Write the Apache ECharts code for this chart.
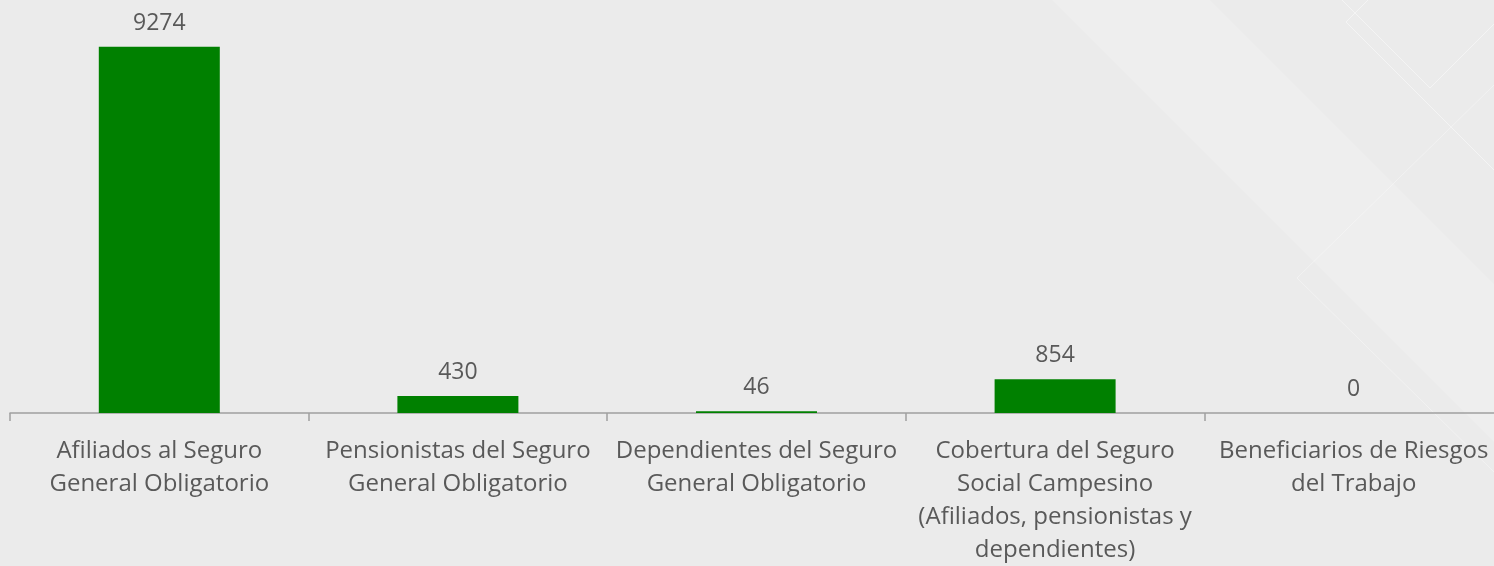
<!DOCTYPE html>
<html>
<head>
<meta charset="UTF-8">
<title>Cobertura</title>
<style>
  html, body { margin: 0; padding: 0; background: #ebebeb; }
  #main { width: 1494px; height: 566px; }
</style>
</head>
<body>
<div id="main"></div>
<script src="https://cdn.jsdelivr.net/npm/echarts@6/dist/echarts.min.js"></script>
<script>
  // categorias y valores
  var categories = [
    'Afiliados al Seguro\nGeneral Obligatorio',
    'Pensionistas del Seguro\nGeneral Obligatorio',
    'Dependientes del Seguro\nGeneral Obligatorio',
    'Cobertura del Seguro\nSocial Campesino\n(Afiliados, pensionistas y\ndependientes)',
    'Beneficiarios de Riesgos\ndel Trabajo'
  ];
  var values = [9274, 430, 46, 854, 0];

  var myChart = echarts.init(document.getElementById('main'));

  // fondo decorativo (franja clara y lineas blancas finas)
  var deco = [
    { type: 'polygon', silent: true, z: -10,
      shape: { points: [[1052, 0], [1210, 0], [1494, 284], [1494, 442]] },
      style: { fill: 'rgba(255,255,255,0.18)' } },
    { type: 'polyline', silent: true, z: -9,
      shape: { points: [[1342, 0], [1430, 88], [1494, 24]] },
      style: { stroke: 'rgba(255,255,255,0.45)', lineWidth: 1, fill: null } },
    { type: 'polyline', silent: true, z: -9,
      shape: { points: [[1368, 0], [1346, 22], [1494, 170]] },
      style: { stroke: 'rgba(255,255,255,0.45)', lineWidth: 1, fill: null } },
    { type: 'polyline', silent: true, z: -9,
      shape: { points: [[1494, 85], [1297, 278], [1494, 472]] },
      style: { stroke: 'rgba(255,255,255,0.35)', lineWidth: 1, fill: null } }
  ];

  myChart.setOption({
    backgroundColor: '#ebebeb',
    animation: false,
    textStyle: { fontFamily: 'Open Sans' },
    graphic: deco,
    grid: { left: 10, width: 1493, top: 18, height: 395, containLabel: false, outerBoundsMode: 'none' },
    xAxis: {
      type: 'category',
      data: categories,
      axisLine: { lineStyle: { color: '#a0a0a0', width: 1.5 } },
      axisTick: { show: true, length: 8, alignWithLabel: false, lineStyle: { color: '#a0a0a0', width: 1.5 } },
      axisLabel: {
        color: '#595959', fontSize: 24, lineHeight: 33, margin: 22,
        interval: 0, fontFamily: 'Open Sans'
      }
    },
    yAxis: {
      type: 'value', min: 0, max: 10000, show: false,
      splitLine: { show: false }
    },
    series: [{
      type: 'bar',
      data: values,
      barWidth: 121,
      itemStyle: { color: '#008000' },
      label: {
        show: true, position: 'top', distance: 12,
        color: '#595959', fontSize: 23, fontFamily: 'Open Sans'
      }
    }]
  });
</script>
</body>
</html>
